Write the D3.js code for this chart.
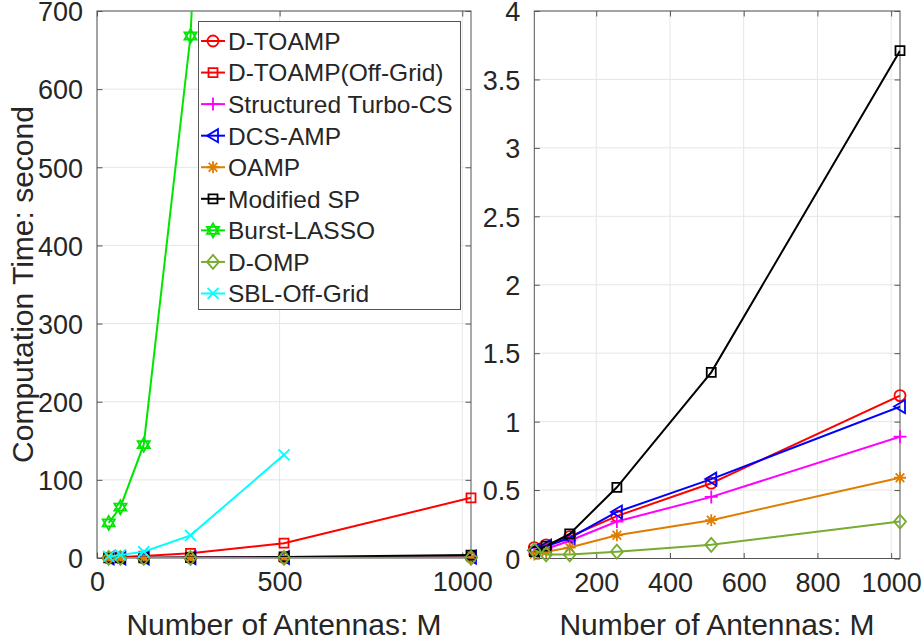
<!DOCTYPE html>
<html>
<head>
<meta charset="utf-8">
<script src="https://cdn.jsdelivr.net/npm/d3@7"></script>
<style>
  body { margin: 0; background: #fff; }
  text { font-family: "Liberation Sans", Arial, Helvetica, sans-serif; fill: #262626; }
</style>
</head>
<body>
<div id="chart"></div>
<script>
// number of antennas M
const antennas = [32, 64, 128, 256, 512, 1024];

// computation time (seconds)
const dToamp        = [0.08, 0.10, 0.16, 0.31, 0.55, 1.19];
const dToampOffGrid = [0.6, 1.2, 2.5, 6, 19, 77];
const turboCs       = [0.05, 0.07, 0.13, 0.27, 0.45, 0.89];
const dcsAmp        = [0.06, 0.09, 0.15, 0.34, 0.58, 1.11];
const oamp          = [0.03, 0.05, 0.08, 0.17, 0.28, 0.59];
const modifiedSp    = [0.05, 0.09, 0.18, 0.52, 1.36, 3.71];
const burstLasso    = [45, 65, 145, 668, 3200];
const dOmp          = [0.06, 0.03, 0.03, 0.05, 0.10, 0.27];
const sblOffGrid    = [2, 4, 8, 29, 132];

const leftXTicks = [0, 500, 1000];
const leftYTicks = [0, 100, 200, 300, 400, 500, 600, 700];
const rightXTicks = [200, 400, 600, 800, 1000];
const rightYTicks = [0, 0.5, 1, 1.5, 2, 2.5, 3, 3.5, 4];

const seriesList = [
    { name: 'D-TOAMP', values: dToamp, color: '#FF0000', marker: 'circle', right: true },
    { name: 'D-TOAMP(Off-Grid)', values: dToampOffGrid, color: '#FF0000', marker: 'square', right: false },
    { name: 'Structured Turbo-CS', values: turboCs, color: '#FF00FF', marker: 'plus', right: true },
    { name: 'DCS-AMP', values: dcsAmp, color: '#0000FF', marker: 'triangleLeft', right: true },
    { name: 'OAMP', values: oamp, color: '#DE7D00', marker: 'asterisk', right: true },
    { name: 'Modified SP', values: modifiedSp, color: '#000000', marker: 'square', right: true },
    { name: 'Burst-LASSO', values: burstLasso, color: '#00E600', marker: 'hexagram', right: false },
    { name: 'D-OMP', values: dOmp, color: '#77AC30', marker: 'diamond', right: true },
    { name: 'SBL-Off-Grid', values: sblOffGrid, color: '#00FFFF', marker: 'cross', right: false }
];

const width = 923;
const height = 644;
const axisColor = '#555555';

function markerPath(type) {
    const p = d3.path();
    switch (type) {
        case 'circle':
            p.moveTo(5.5, 0); p.arc(0, 0, 5.5, 0, 2 * Math.PI); p.closePath(); break;
        case 'square':
            p.rect(-4.5, -4.5, 9, 9); break;
        case 'plus':
            p.moveTo(-6.5, 0); p.lineTo(6.5, 0); p.moveTo(0, -6.5); p.lineTo(0, 6.5); break;
        case 'triangleLeft':
            p.moveTo(-6, 0); p.lineTo(5, -6.5); p.lineTo(5, 6.5); p.closePath(); break;
        case 'asterisk':
            p.moveTo(-6, 0); p.lineTo(6, 0); p.moveTo(0, -6); p.lineTo(0, 6);
            p.moveTo(-4.3, -4.3); p.lineTo(4.3, 4.3); p.moveTo(-4.3, 4.3); p.lineTo(4.3, -4.3); break;
        case 'hexagram': {
            const r = 7;
            [-90, 90].forEach(start => {
                d3.range(3).forEach(i => {
                    const a = (start + i * 120) * Math.PI / 180;
                    const x = r * Math.cos(a), y = r * Math.sin(a);
                    if (i === 0) p.moveTo(x, y); else p.lineTo(x, y);
                });
                p.closePath();
            });
            break;
        }
        case 'diamond':
            p.moveTo(0, -7); p.lineTo(6, 0); p.lineTo(0, 7); p.lineTo(-6, 0); p.closePath(); break;
        case 'cross':
            p.moveTo(-5.5, -5.5); p.lineTo(5.5, 5.5); p.moveTo(-5.5, 5.5); p.lineTo(5.5, -5.5); break;
    }
    return p.toString();
}

function drawPanel(svg, opts) {
    const { x, y, xTicks, yTicks, series, id } = opts;
    const [x0, x1] = x.range();
    const [y0, y1] = y.range(); // y0 bottom, y1 top
    const g = svg.append('g');
    const fmt = d => String(d);

    // grid
    g.append('g').selectAll('line').data(xTicks).enter().append('line')
        .attr('x1', d => x(d)).attr('x2', d => x(d))
        .attr('y1', y1).attr('y2', y0)
        .attr('stroke', '#e6e6e6').attr('stroke-width', 1);
    g.append('g').selectAll('line').data(yTicks).enter().append('line')
        .attr('x1', x0).attr('x2', x1)
        .attr('y1', d => y(d)).attr('y2', d => y(d))
        .attr('stroke', '#e6e6e6').attr('stroke-width', 1);

    // axes box with inward ticks on all sides
    const tl = 5.5;
    const xAxisB = d3.axisBottom(x).tickValues(xTicks).tickFormat(fmt).tickSizeInner(-tl).tickSizeOuter(0).tickPadding(14);
    const xAxisT = d3.axisTop(x).tickValues(xTicks).tickSizeInner(-tl).tickSizeOuter(0).tickFormat('');
    const yAxisL = d3.axisLeft(y).tickValues(yTicks).tickFormat(fmt).tickSizeInner(-tl).tickSizeOuter(0).tickPadding(14);
    const yAxisR = d3.axisRight(y).tickValues(yTicks).tickSizeInner(-tl).tickSizeOuter(0).tickFormat('');

    const axes = [
        g.append('g').attr('transform', `translate(0,${y0})`).call(xAxisB),
        g.append('g').attr('transform', `translate(0,${y1})`).call(xAxisT),
        g.append('g').attr('transform', `translate(${x0},0)`).call(yAxisL),
        g.append('g').attr('transform', `translate(${x1},0)`).call(yAxisR)
    ];
    axes.forEach(a => {
        a.select('.domain').remove();
        a.selectAll('line').attr('stroke', axisColor).attr('stroke-width', 1);
        a.selectAll('text').style('font-size', '27px').attr('fill', '#262626')
            .attr('font-family', '"Liberation Sans", Arial, sans-serif');
    });
    axes[0].selectAll('text').attr('dy', '0.72em');
    axes[2].selectAll('text').attr('dy', '0.36em');

    g.append('rect')
        .attr('x', x0).attr('y', y1)
        .attr('width', x1 - x0).attr('height', y0 - y1)
        .attr('fill', 'none').attr('stroke', axisColor).attr('stroke-width', 1);

    svg.append('clipPath').attr('id', id)
        .append('rect')
        .attr('x', x0).attr('y', y1)
        .attr('width', x1 - x0).attr('height', y0 - y1);

    const line = d3.line().x(d => x(d[0])).y(d => y(d[1]));

    series.forEach(s => {
        const pts = s.values.map((v, i) => [antennas[i], v]);
        g.append('path')
            .datum(pts)
            .attr('clip-path', `url(#${id})`)
            .attr('d', line)
            .attr('fill', 'none')
            .attr('stroke', s.color)
            .attr('stroke-width', 2);
        g.append('g').selectAll('path')
            .data(pts.filter(d => d[1] <= y.domain()[1]))
            .enter().append('path')
            .attr('transform', d => `translate(${x(d[0])},${y(d[1])})`)
            .attr('d', markerPath(s.marker))
            .attr('fill', 'none')
            .attr('stroke', s.color)
            .attr('stroke-width', 1.8);
    });
    return g;
}

function drawLegend(svg, series) {
    const lx = 198.5, ly = 21.5, lw = 262, lh = 288;
    const rowStep = 31.56;
    const g = svg.append('g');
    g.append('rect')
        .attr('x', lx).attr('y', ly).attr('width', lw).attr('height', lh)
        .attr('fill', '#fff').attr('stroke', axisColor).attr('stroke-width', 1);
    const rows = g.selectAll('.row').data(series).enter().append('g')
        .attr('class', 'row')
        .attr('transform', (d, i) => `translate(0,${41 + i * rowStep})`);
    rows.append('line')
        .attr('x1', 201).attr('x2', 225).attr('y1', 0).attr('y2', 0)
        .attr('stroke', d => d.color).attr('stroke-width', 2);
    rows.append('path')
        .attr('transform', 'translate(213,0)')
        .attr('d', d => markerPath(d.marker))
        .attr('fill', 'none')
        .attr('stroke', d => d.color)
        .attr('stroke-width', 1.8);
    rows.append('text')
        .attr('x', 228).attr('y', 0).attr('dy', '0.36em')
        .style('font-size', '24.5px')
        .text(d => d.name);
}

const svg = d3.select('#chart').append('svg')
    .attr('width', width).attr('height', height);

const xLeft = d3.scaleLinear().domain([0, 1024]).range([97, 471]);
const yLeft = d3.scaleLinear().domain([0, 700]).range([558, 11]);
drawPanel(svg, { x: xLeft, y: yLeft, xTicks: leftXTicks, yTicks: leftYTicks, series: seriesList, id: 'clipLeft' });

const xRight = d3.scaleLinear().domain([32, 1024]).range([534.3, 900]);
const yRight = d3.scaleLinear().domain([0, 4]).range([558.5, 11]);
drawPanel(svg, { x: xRight, y: yRight, xTicks: rightXTicks, yTicks: rightYTicks, series: seriesList.filter(s => s.right), id: 'clipRight' });

drawLegend(svg, seriesList);

// axis labels
svg.append('text')
    .attr('x', 284).attr('y', 635)
    .attr('text-anchor', 'middle')
    .style('font-size', '30px')
    .text('Number of Antennas: M');
svg.append('text')
    .attr('x', 717).attr('y', 635)
    .attr('text-anchor', 'middle')
    .style('font-size', '30px')
    .text('Number of Antennas: M');
svg.append('text')
    .attr('transform', 'translate(33,284.5) rotate(-90)')
    .attr('text-anchor', 'middle')
    .style('font-size', '30px')
    .text('Computation Time: second');
</script>
</body>
</html>
